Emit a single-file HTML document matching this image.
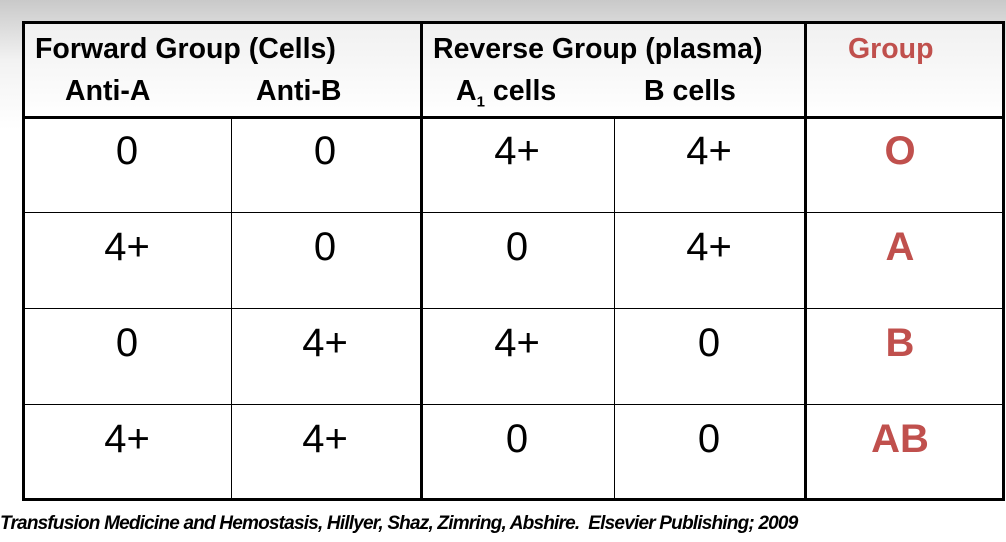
<!DOCTYPE html>
<html><head><meta charset="utf-8"><style>
body{margin:0;width:1006px;height:542px;overflow:hidden;position:relative;font-family:"Liberation Sans",Arial,sans-serif;background:linear-gradient(#c9c9c9 0px,#f2f2f2 60px,#fff 130px,#fff 100%);}
.ln{position:absolute;background:#000;}
.t{position:absolute;white-space:nowrap;}
.h{font-weight:bold;font-size:28.5px;color:#000;letter-spacing:0px;}
.n{font-size:40px;color:#000;transform:translateX(-50%);}
.g{font-size:40px;font-weight:bold;color:#c0504d;transform:translateX(-50%);}
#cells{position:absolute;left:22px;top:117px;width:982px;height:384px;background:#fff;}
#hdr{position:absolute;left:22px;top:22px;width:982px;height:95px;background:linear-gradient(#f0f0f0,#fff);}
</style></head><body>
<div id="hdr"></div>
<div id="cells"></div>
<div class="ln" style="left:22px;top:21px;width:983px;height:3px"></div>
<div class="ln" style="left:22px;top:116px;width:983px;height:3px"></div>
<div class="ln" style="left:22px;top:212px;width:983px;height:1px"></div>
<div class="ln" style="left:22px;top:308px;width:983px;height:1px"></div>
<div class="ln" style="left:22px;top:404px;width:983px;height:1px"></div>
<div class="ln" style="left:22px;top:498px;width:983px;height:3px"></div>
<div class="ln" style="left:22px;top:21px;width:3px;height:480px"></div>
<div class="ln" style="left:231px;top:117px;width:1px;height:383px"></div>
<div class="ln" style="left:420px;top:21px;width:3px;height:480px"></div>
<div class="ln" style="left:614px;top:117px;width:1px;height:383px"></div>
<div class="ln" style="left:804px;top:21px;width:3px;height:480px"></div>
<div class="ln" style="left:1002px;top:21px;width:3px;height:480px"></div>
<div class="t h" style="left:35px;top:33px">Forward Group (Cells)</div>
<div class="t h" style="left:65px;top:75px">Anti-A</div>
<div class="t h" style="left:256px;top:75px">Anti-B</div>
<div class="t h" style="left:433px;top:33px">Reverse Group (plasma)</div>
<div class="t h" style="left:456px;top:75px">A<sub style="font-size:15px">1</sub> cells</div>
<div class="t h" style="left:644px;top:75px">B cells</div>
<div class="t h" style="left:848px;top:33px;color:#c0504d">Group</div>
<div id="rows"></div>
<div class="t" style="left:0;top:513px;font-size:19px;font-weight:bold;font-style:italic;letter-spacing:-0.8px">Transfusion Medicine and Hemostasis, Hillyer, Shaz, Zimring, Abshire.&nbsp; Elsevier Publishing; 2009</div>
<script>
const antiA=["0","4+","0","4+"];
const antiB=["0","0","4+","4+"];
const a1Cells=["4+","0","4+","0"];
const bCells=["4+","4+","0","0"];
const groups=["O","A","B","AB"];
const rows=document.getElementById('rows');
const colX=[127,325,517,709];
const names=['anti-a-value','anti-b-value','a1-cells-value','b-cells-value'];
[antiA,antiB,a1Cells,bCells].forEach((arr,c)=>{
  arr.forEach((v,r)=>{
    const d=document.createElement('div');
    d.className='t n';
    d.style.left=colX[c]+'px';
    d.style.top=(129+r*96)+'px';
    d.textContent=v;
    
    
    rows.appendChild(d);
  });
});
groups.forEach((v,r)=>{
  const d=document.createElement('div');
  d.className='t g';
  d.style.left='900px';
  d.style.top=(129+r*96)+'px';
  d.textContent=v;
  
  
  rows.appendChild(d);
});
</script>
</body></html>
